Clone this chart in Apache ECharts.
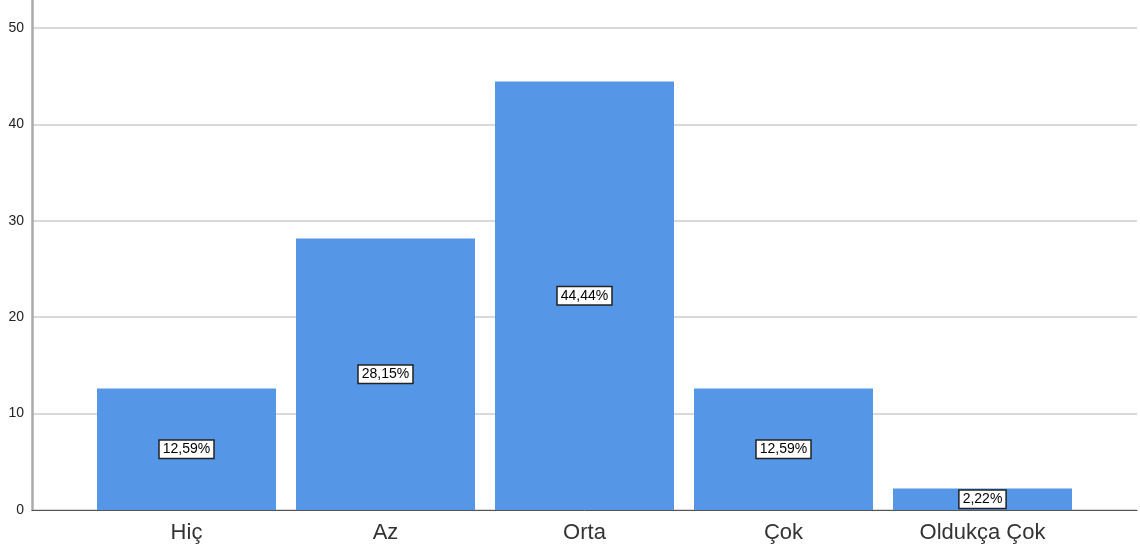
<!DOCTYPE html>
<html>
<head>
<meta charset="utf-8">
<script src="https://cdn.jsdelivr.net/npm/echarts@6/dist/echarts.min.js"></script>
<style>
html, body { margin: 0; padding: 0; background: #fff; }
#main { width: 1140px; height: 549px; }
</style>
</head>
<body>
<div id="main"></div>
<script>
var categories = ['Hiç', 'Az', 'Orta', 'Çok', 'Oldukça Çok']
var percents = [12.59, 28.15, 44.44, 12.59, 2.22]
var yTicks = [0, 10, 20, 30, 40, 50]

var yMax = 52.9
var myChart = echarts.init(document.getElementById('main'))

var options = {
    animation: false,
    textStyle: { fontFamily: 'Liberation Sans, Arial, sans-serif' },
    grid: [
        // wide grid: axis lines and grid lines
        { left: 32, right: 3, top: 0, bottom: 39 },
        // narrow grid: bars
        { left: 87, width: 995, top: 0, bottom: 39 }
    ],
    xAxis: [{
        gridIndex: 0,
        type: 'value',
        min: 0, max: 1,
        axisLine: { show: true, onZero: false, lineStyle: { color: '#555', width: 1 } },
        axisTick: { show: false },
        axisLabel: { show: false },
        splitLine: { show: false }
    }, {
        gridIndex: 1,
        type: 'category',
        data: categories,
        axisLine: { show: false },
        axisTick: { show: false },
        axisLabel: { color: '#333', fontSize: 22, margin: 12 }
    }],
    yAxis: [{
        gridIndex: 0,
        type: 'value',
        min: 0, max: yMax, interval: 10,
        axisLine: { show: true, lineStyle: { color: '#aaa', width: 2.5 } },
        axisTick: { show: false },
        axisLabel: {
            color: '#222', fontSize: 14, margin: 8,
            formatter: function (v) { return yTicks.indexOf(v) >= 0 ? String(v) : '' }
        },
        splitLine: {
            lineStyle: { color: ['#ccc', '#ccc', '#ccc', '#ccc', '#ccc', '#ccc', 'transparent'], width: 1.5 }
        }
    }, {
        gridIndex: 1,
        type: 'value',
        min: 0, max: yMax,
        show: false
    }],
    series: [{
        type: 'bar',
        xAxisIndex: 1,
        yAxisIndex: 1,
        data: percents,
        barWidth: 179,
        itemStyle: { color: '#5597e6' },
        label: {
            show: true,
            position: 'inside',
            color: '#000',
            fontSize: 14,
            backgroundColor: '#fff',
            borderColor: '#222',
            borderWidth: 1.5,
            padding: [2, 3, 1, 3],
            formatter: function (p) { return p.value.toFixed(2).replace('.', ',') + '%' }
        }
    }]
}

myChart.setOption(options)
</script>
</body>
</html>
